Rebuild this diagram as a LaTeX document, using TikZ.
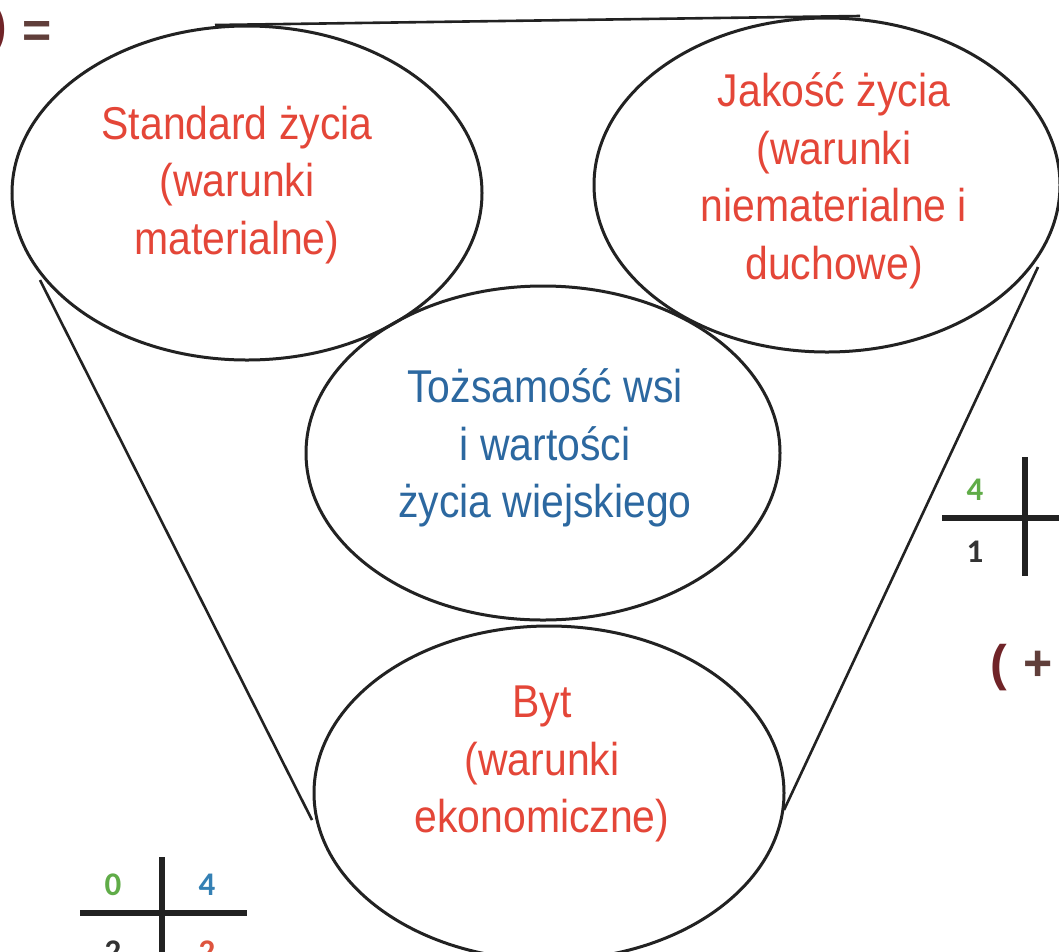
\documentclass[tikz,border=0pt]{standalone}
\usepackage{fontspec}
\setmainfont{Liberation Sans}
\newfontfamily\narrowfont[FakeStretch=0.89]{Liberation Sans}
\newfontfamily\numfont{Carlito}
\usetikzlibrary{shapes.geometric}
\definecolor{txtred}{RGB}{228,70,56}
\definecolor{txtblue}{RGB}{44,104,160}
\definecolor{numgreen}{RGB}{96,172,72}
\definecolor{numblue}{RGB}{52,128,180}
\definecolor{numred}{RGB}{222,84,62}
\definecolor{darkred}{RGB}{112,36,40}
\definecolor{eqbrown}{RGB}{96,62,58}
\definecolor{linegray}{RGB}{34,34,34}
\begin{document}
\begin{tikzpicture}[x=1pt,y=-1pt,
  oval/.style={ellipse, draw=linegray, line width=3pt, inner sep=0pt,
               minimum width=470pt, minimum height=334pt},
  funnel/.style={draw=linegray, line width=2.6pt},
  labeltext/.style={align=center, inner sep=0pt,
               font=\narrowfont\fontsize{46}{57.5}\selectfont},
  crossline/.style={draw=linegray, line width=6pt},
  digit/.style={inner sep=0pt, font=\numfont\bfseries\fontsize{33}{33}\selectfont},
  sign/.style={inner sep=0pt, font=\bfseries\fontsize{50}{50}\selectfont}]
\useasboundingbox (0,0) rectangle (1059,951);
\fill[white] (0,0) rectangle (1059,951);
\begin{scope}
\clip (0,0) rectangle (1059,951);
% ellipses
\node[oval] (e1) at (247,193) {};
\node[oval, minimum width=466pt] (e2) at (827,185) {};
\node[oval, minimum width=474pt] (e3) at (543,453) {};
\node[oval] (e4) at (549,793) {};
% funnel lines
\coordinate (tl) at (215,25);
\coordinate (tr) at (860,16);
\coordinate (ll) at (40,280);
\coordinate (lb) at (312,820);
\coordinate (rr) at (1038,267);
\coordinate (rb) at (784,810);
\draw[funnel] (tl) -- (tr);
\draw[funnel] (ll) -- (lb);
\draw[funnel] (rr) -- (rb);
% texts
\node[labeltext, text=txtred] (t1) at (237,185) {Standard życia\\(warunki\\materialne)};
\node[labeltext, text=txtred] (t2) at (834,181) {Jakość życia\\(warunki\\niematerialne i\\duchowe)};
\node[labeltext, text=txtblue] (t3) at (545,448) {Tożsamość wsi\\i wartości\\życia wiejskiego};
\node[labeltext, text=txtred] (t4) at (542,764) {Byt\\(warunki\\ekonomiczne)};
% bottom-left cross
\coordinate (bv1) at (162,857);
\coordinate (bv2) at (162,960);
\coordinate (bh1) at (80,913);
\coordinate (bh2) at (247,913);
\draw[crossline] (bv1) -- (bv2);
\draw[crossline] (bh1) -- (bh2);
\node[digit, text=numgreen] (d1) at (113,885) {0};
\node[digit, text=numblue] (d2) at (207,885) {4};
\node[digit, text=black!80] (d3) at (113,952) {2};
\node[digit, text=numred] (d4) at (207,952) {2};
% right cross
\coordinate (rv1) at (1025,457);
\coordinate (rv2) at (1025,576);
\coordinate (rh1) at (942,518);
\coordinate (rh2) at (1065,518);
\draw[crossline] (rv1) -- (rv2);
\draw[crossline] (rh1) -- (rh2);
\node[digit, text=numgreen] (d5) at (975,490) {4};
\node[digit, text=black!80] (d6) at (975,552) {1};
% signs
\node[sign, text=darkred, anchor=west] (s1) at (990,668) {(\,\,\textcolor{eqbrown}{+}};
\node[sign, text=darkred, anchor=east] (s2) at (7,30) {)};
\node[sign, text=eqbrown] (s3) at (37,34) {=};
\end{scope}
\end{tikzpicture}
\end{document}
